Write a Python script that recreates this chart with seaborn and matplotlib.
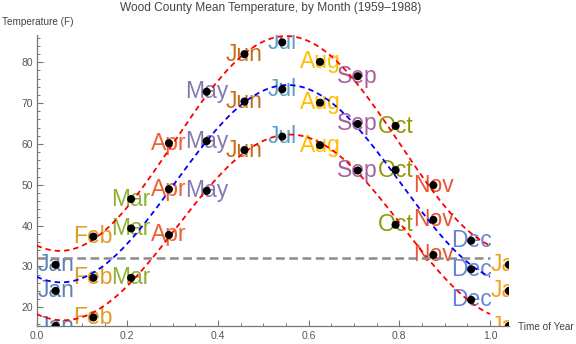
import numpy as np
import pandas as pd
import matplotlib
matplotlib.use("Agg")
import matplotlib.pyplot as plt
from matplotlib.ticker import MultipleLocator
import seaborn as sns

# Monthly temperatures (F), Wood County 1959-1988
months = ["Jan", "Feb", "Mar", "Apr", "May", "Jun",
          "Jul", "Aug", "Sep", "Oct", "Nov", "Dec", "Jan"]
high = [30.4, 37.3, 46.5, 60.2, 72.8, 82.0, 84.9, 80.1, 76.6, 64.4, 49.9, 36.3]
mean = [24.0, 27.2, 39.3, 48.9, 60.7, 70.4, 73.4, 70.1, 64.9, 53.6, 41.4, 29.3]
low = [15.4, 17.5, 27.2, 37.7, 48.5, 58.5, 61.8, 59.7, 53.5, 40.2, 32.8, 21.8]
freezing = 32

month_colors = ["#5E81B5", "#E19C24", "#8FB032", "#EB6235", "#8778B3", "#C56E1A",
                "#5D9EC7", "#FFBF00", "#A5619D", "#929600", "#E95536", "#6685D9",
                "#F89F13"]

sns.set_style("white")
plt.rcParams["font.family"] = ["Liberation Sans", "DejaVu Sans"]

# time of year at mid-month, the first January repeated after December
t = (np.arange(1, 14) - 0.5) / 12.0
series = {"high": high, "mean": mean, "low": low}
rows = []
for name, vals in series.items():
    vals13 = list(vals) + [vals[0]]
    for ti, m, v, c in zip(t, months, vals13, month_colors):
        rows.append({"series": name, "t": ti, "month": m, "temp": v, "color": c})
pts = pd.DataFrame(rows)

# least-squares annual sinusoid through each series
grid = np.linspace(0, 1, 300)
fit_rows = []
for name, vals in series.items():
    x = t[:12]
    A = np.column_stack([np.ones(12), np.cos(2 * np.pi * x), np.sin(2 * np.pi * x)])
    coef, *_ = np.linalg.lstsq(A, np.asarray(vals), rcond=None)
    G = np.column_stack([np.ones_like(grid), np.cos(2 * np.pi * grid), np.sin(2 * np.pi * grid)])
    for g, y in zip(grid, G @ coef):
        fit_rows.append({"series": name, "t": g, "temp": y})
fits = pd.DataFrame(fit_rows)

fig = plt.figure(figsize=(5.76, 3.44), dpi=100)
ax = fig.add_axes([0.0637, 0.0523, 0.8198, 0.846])

# month names centred on their points
for _, r in pts.iterrows():
    ax.text(r.t, r.temp, r.month, color=r.color, fontsize=16.5, ha="center",
            va="center", zorder=2, clip_on=True)

fit_palette = {"high": "#FF0000", "mean": "#0000FF", "low": "#FF0000"}
for name in series:
    sns.lineplot(data=fits[fits.series == name], x="t", y="temp", ax=ax,
                 color=fit_palette[name], lw=1.3, dashes=False, zorder=3,
                 estimator=None, sort=False)
for line in ax.get_lines():
    line.set_dashes((3.0, 2.2))

sns.lineplot(x=[0, 1], y=[freezing, freezing], ax=ax, color="#8C8C8C", lw=1.8,
             zorder=3)
ax.get_lines()[-1].set_dashes((3.5, 1.8))

sns.scatterplot(data=pts, x="t", y="temp", ax=ax, color="black", s=34,
                edgecolor="none", zorder=4, legend=False)

ax.set_xlabel("")
ax.set_ylabel("")

for s in ("top", "right"):
    ax.spines[s].set_visible(False)
for s in ("left", "bottom"):
    ax.spines[s].set_color("#777777")
    ax.spines[s].set_linewidth(0.9)

ax.xaxis.set_minor_locator(MultipleLocator(0.05))
ax.yaxis.set_minor_locator(MultipleLocator(2))
ax.set_xticks([0, 0.2, 0.4, 0.6, 0.8, 1.0])
ax.set_xticklabels(["0.0", "0.2", "0.4", "0.6", "0.8", "1.0"])
ax.set_yticks([20, 30, 40, 50, 60, 70, 80])
ax.set_ylim(min(low), 86.7)
ax.set_xlim(0, t[-1])
ax.tick_params(axis="both", which="major", direction="in", length=4, width=0.8,
               color="#777777", labelsize=7.5, labelcolor="#555555", pad=2.5,
               bottom=True, left=True)
ax.tick_params(axis="both", which="minor", direction="in", length=2.5, width=0.7,
               color="#777777", bottom=True, left=True)
ax.tick_params(axis="x", which="major", pad=3.5)

fig.text(0.003, 1 - 22 / 344, "Temperature (F)", fontsize=7.2, color="#444444",
         ha="left", va="center")
fig.text(518 / 576, 1 - 327 / 344, "Time of Year", fontsize=7.2, color="#444444",
         ha="left", va="center")
fig.text(271 / 576, 1 - 8 / 344,
         "Wood County Mean Temperature, by Month (1959\u20131988)",
         fontsize=8.6, color="#444444", ha="center", va="center")

fig.savefig("out.png", dpi=100)
